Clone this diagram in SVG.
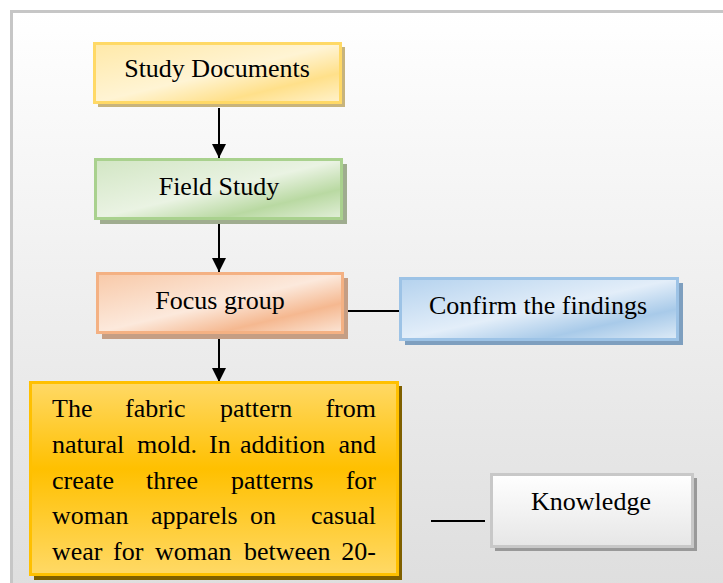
<svg xmlns="http://www.w3.org/2000/svg" width="723" height="583" viewBox="0 0 723 583">
<defs>
<linearGradient id="bg" x1="0" y1="0" x2="0" y2="1"><stop offset="0" stop-color="#ffffff"/><stop offset="1" stop-color="#dedede"/></linearGradient>
<linearGradient id="gY" x1="0" y1="0" x2="1" y2="1"><stop offset="0" stop-color="#ffe9a8"/><stop offset="0.5" stop-color="#fff4d4"/><stop offset="0.75" stop-color="#ffe08a"/><stop offset="1" stop-color="#fff2cc"/></linearGradient>
<linearGradient id="gG" x1="0" y1="0" x2="1" y2="1"><stop offset="0" stop-color="#d2e6c4"/><stop offset="0.5" stop-color="#eaf3e3"/><stop offset="0.75" stop-color="#b9d9a2"/><stop offset="1" stop-color="#e2efd9"/></linearGradient>
<linearGradient id="gO" x1="0" y1="0" x2="1" y2="1"><stop offset="0" stop-color="#f8c9a8"/><stop offset="0.5" stop-color="#fce9dc"/><stop offset="0.75" stop-color="#f5b890"/><stop offset="1" stop-color="#fbe5d6"/></linearGradient>
<linearGradient id="gB" x1="0" y1="0" x2="1" y2="1"><stop offset="0" stop-color="#b4d2ee"/><stop offset="0.5" stop-color="#e3eef9"/><stop offset="0.75" stop-color="#a8cae9"/><stop offset="1" stop-color="#deebf7"/></linearGradient>
<linearGradient id="gK" x1="0" y1="0" x2="0" y2="1"><stop offset="0" stop-color="#ffffff"/><stop offset="1" stop-color="#e6e6e6"/></linearGradient>
<linearGradient id="gM" x1="0" y1="0" x2="0" y2="1"><stop offset="0" stop-color="#ffd966"/><stop offset="0.45" stop-color="#ffc000"/><stop offset="1" stop-color="#ffd966"/></linearGradient>
<marker id="ah" viewBox="0 0 10 10" refX="10" refY="5" markerWidth="7" markerHeight="7.5" markerUnits="strokeWidth" orient="auto"><path d="M0,0 L10,5 L0,10 z" fill="#000"/></marker>
</defs>
<style>
.t{font-family:"Liberation Serif","Times New Roman",serif;font-size:26px;fill:#000}
.c{text-anchor:middle}
.e{text-anchor:end}
.conn{stroke:#000;stroke-width:2;fill:none}
</style>
<rect x="0" y="0" width="723" height="583" fill="#ffffff"/>
<rect x="11.5" y="11.5" width="720" height="580" fill="url(#bg)" stroke="#c6c6c6" stroke-width="3"/>
<g id="connectors">
<line class="conn" x1="219" y1="108" x2="219" y2="158" marker-end="url(#ah)"/>
<line class="conn" x1="219" y1="224" x2="219" y2="272" marker-end="url(#ah)"/>
<line class="conn" x1="219" y1="338" x2="219" y2="382" marker-end="url(#ah)"/>
<line class="conn" x1="347" y1="311" x2="400" y2="311"/>
<line class="conn" x1="431" y1="521" x2="485" y2="521"/>
</g>
<g id="study-documents">
<rect x="98" y="47" width="247" height="60" fill="#c8b47c"/>
<rect x="94.5" y="43.5" width="246" height="59" fill="url(#gY)" stroke="#ffd966" stroke-width="3"/>
<text class="t c" x="217" y="77">Study Documents</text>
</g>
<g id="field-study">
<rect x="100" y="164" width="247" height="60" fill="#9fac8f"/>
<rect x="95.5" y="159.5" width="246" height="59" fill="url(#gG)" stroke="#a9d18e" stroke-width="3"/>
<text class="t c" x="219" y="195">Field Study</text>
</g>
<g id="focus-group">
<rect x="102" y="278" width="246" height="61" fill="#c59e84"/>
<rect x="97.5" y="273.5" width="245" height="59" fill="url(#gO)" stroke="#f4b183" stroke-width="3"/>
<text class="t c" x="220" y="309">Focus group</text>
</g>
<g id="confirm-findings">
<rect x="405" y="283" width="278" height="62" fill="#7e9fbf"/>
<rect x="400.5" y="278.5" width="277" height="61" fill="url(#gB)" stroke="#9dc3e6" stroke-width="3"/>
<text class="t c" x="538" y="314">Confirm the findings</text>
</g>
<g id="fabric-pattern">
<rect x="34" y="386" width="368" height="194" fill="#7f6000"/>
<rect x="30.5" y="382.5" width="367" height="192" fill="url(#gM)" stroke="#ffc000" stroke-width="3"/>
<text class="t" y="417"><tspan x="52">The</tspan><tspan x="125">fabric</tspan><tspan x="220">pattern</tspan></text>
<text class="t e" x="376" y="417">from</text>
<text class="t" y="453"><tspan x="52">natural</tspan><tspan x="137">mold.</tspan><tspan x="209">In</tspan><tspan x="240">addition</tspan></text>
<text class="t e" x="376" y="453">and</text>
<text class="t" y="489"><tspan x="52">create</tspan><tspan x="146">three</tspan><tspan x="231">patterns</tspan></text>
<text class="t e" x="376" y="489">for</text>
<text class="t" y="524"><tspan x="52">woman</tspan><tspan x="151">apparels</tspan><tspan x="250">on</tspan></text>
<text class="t e" x="376" y="524">casual</text>
<text class="t" y="560"><tspan x="52">wear</tspan><tspan x="113">for</tspan><tspan x="155">woman</tspan><tspan x="244">between</tspan></text>
<text class="t e" x="376" y="560">20-</text>
</g>
<g id="knowledge">
<rect x="495" y="478" width="202" height="73" fill="#999999"/>
<rect x="491.5" y="474.5" width="201" height="72" fill="url(#gK)" stroke="#c8c8c8" stroke-width="3"/>
<text class="t c" x="591" y="510">Knowledge</text>
</g>
</svg>
